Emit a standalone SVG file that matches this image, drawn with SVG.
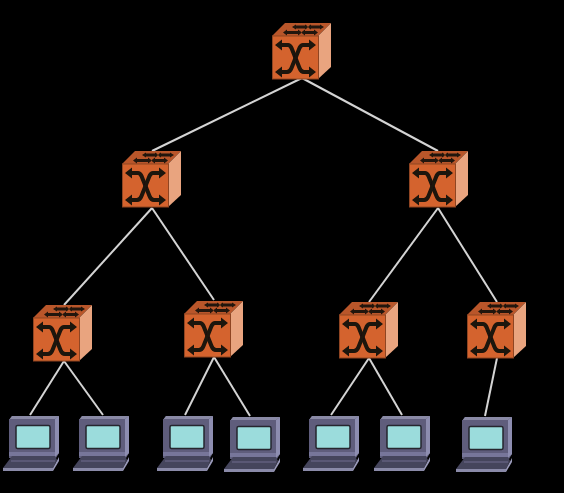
<svg xmlns="http://www.w3.org/2000/svg" width="564" height="493" viewBox="0 0 564 493">
<defs>
<filter id="soft" x="-5%" y="-5%" width="110%" height="110%"><feGaussianBlur stdDeviation="0.45"/></filter>
<symbol id="sw" width="60" height="58" viewBox="0 0 60 58" overflow="visible">
<path d="M0 13L13 0H59L46 13z" fill="#b9572b"/>
<path d="M46 13L59 0V44L46 56z" fill="#e9a47f"/>
<rect x="0.500" y="13" width="46" height="43" fill="#d4642d" stroke="#8f4520"/>
<g fill="none" stroke="#22160e" stroke-width="3">
<path d="M14 9.500H27M23 4H34M32 9.500H43M38 4H49"/>
</g>
<path d="M11 9.500l4-3v6zM30 9.500l-4-3v6zM20 4l4-2.500v5zM37 4l-4-2.500v5zM29 9.500l4-3v6zM46 9.500l-4-3v6zM35 4l4-2.500v5zM52 4l-4-2.500v5z" fill="#22160e"/>
<g fill="none" stroke="#1c120c" stroke-width="4" stroke-linejoin="round">
<path d="M9 22H16Q18 22 19.500 25L27.500 45Q29 49 32 49H38"/>
<path d="M38 22H31Q29 22 27.500 25L19.500 45Q18 49 15 49H9"/>
</g>
<path d="M3 22L10 16.500V27.500zM44 22L37 16.500V27.500zM3 49L10 43.500V54.500zM44 49L37 43.500V54.500z" fill="#1c120c"/>
</symbol>
<symbol id="pc" width="57" height="57" viewBox="0 0 57 57" overflow="visible">
<path d="M6 5L9 1H56V38L53 43H6z" fill="#5f5e7c"/>
<path d="M52 4L56 1V38L52 42z" fill="#8d8db0"/>
<path d="M6 5L9 1H56L52 4z" fill="#8a8aa6"/>
<rect x="6" y="4" width="46" height="36" fill="#5f5d7b"/>
<rect x="13" y="10.500" width="34" height="23" rx="1.500" fill="#9bdcdc" stroke="#26262f" stroke-width="1.500"/>
<path d="M6 37H52V41H6z" fill="#77769a"/>
<path d="M9 41H52L54 45L50 53H0z" fill="#45445c"/>
<path d="M8 46H52" stroke="#5a5974" stroke-width="2" fill="none"/>
<path d="M0 53H50V56H0z" fill="#8a8aa8"/>
<path d="M50 53L56 42V46L50 56z" fill="#9a9aba"/>
</symbol>
</defs>
<style>
#links line{stroke:#d4d4d4;stroke-width:2;fill:none}
</style>
<rect width="564" height="493" fill="#000"/>
<g id="links">
<line x1="302" y1="78" x2="152" y2="151"/><line x1="302" y1="78" x2="438" y2="151"/>
<line x1="152" y1="208" x2="64" y2="305"/><line x1="152" y1="208" x2="214" y2="300"/>
<line x1="438" y1="208" x2="369" y2="302"/><line x1="438" y1="208" x2="497" y2="302"/>
<line x1="64" y1="361" x2="30" y2="415"/><line x1="64" y1="361" x2="103" y2="415"/>
<line x1="214" y1="357" x2="185" y2="415"/><line x1="214" y1="357" x2="250" y2="416"/>
<line x1="369" y1="358" x2="331" y2="415"/><line x1="369" y1="358" x2="402" y2="415"/>
<line x1="497" y1="358" x2="485" y2="416"/>
</g>
<g id="switch-root" filter="url(#soft)"><use href="#sw" x="272" y="23"/></g>
<g id="switch-l" filter="url(#soft)"><use href="#sw" x="122" y="151"/></g>
<g id="switch-r" filter="url(#soft)"><use href="#sw" x="409" y="151"/></g>
<g id="switch-ll" filter="url(#soft)"><use href="#sw" x="33" y="305"/></g>
<g id="switch-lr" filter="url(#soft)"><use href="#sw" x="184" y="301"/></g>
<g id="switch-rl" filter="url(#soft)"><use href="#sw" x="339" y="302"/></g>
<g id="switch-rr" filter="url(#soft)"><use href="#sw" x="467" y="302"/></g>
<g id="pc1" filter="url(#soft)"><use href="#pc" x="3" y="415"/></g>
<g id="pc2" filter="url(#soft)"><use href="#pc" x="73" y="415"/></g>
<g id="pc3" filter="url(#soft)"><use href="#pc" x="157" y="415"/></g>
<g id="pc4" filter="url(#soft)"><use href="#pc" x="224" y="416"/></g>
<g id="pc5" filter="url(#soft)"><use href="#pc" x="303" y="415"/></g>
<g id="pc6" filter="url(#soft)"><use href="#pc" x="374" y="415"/></g>
<g id="pc7" filter="url(#soft)"><use href="#pc" x="456" y="416"/></g>
</svg>
